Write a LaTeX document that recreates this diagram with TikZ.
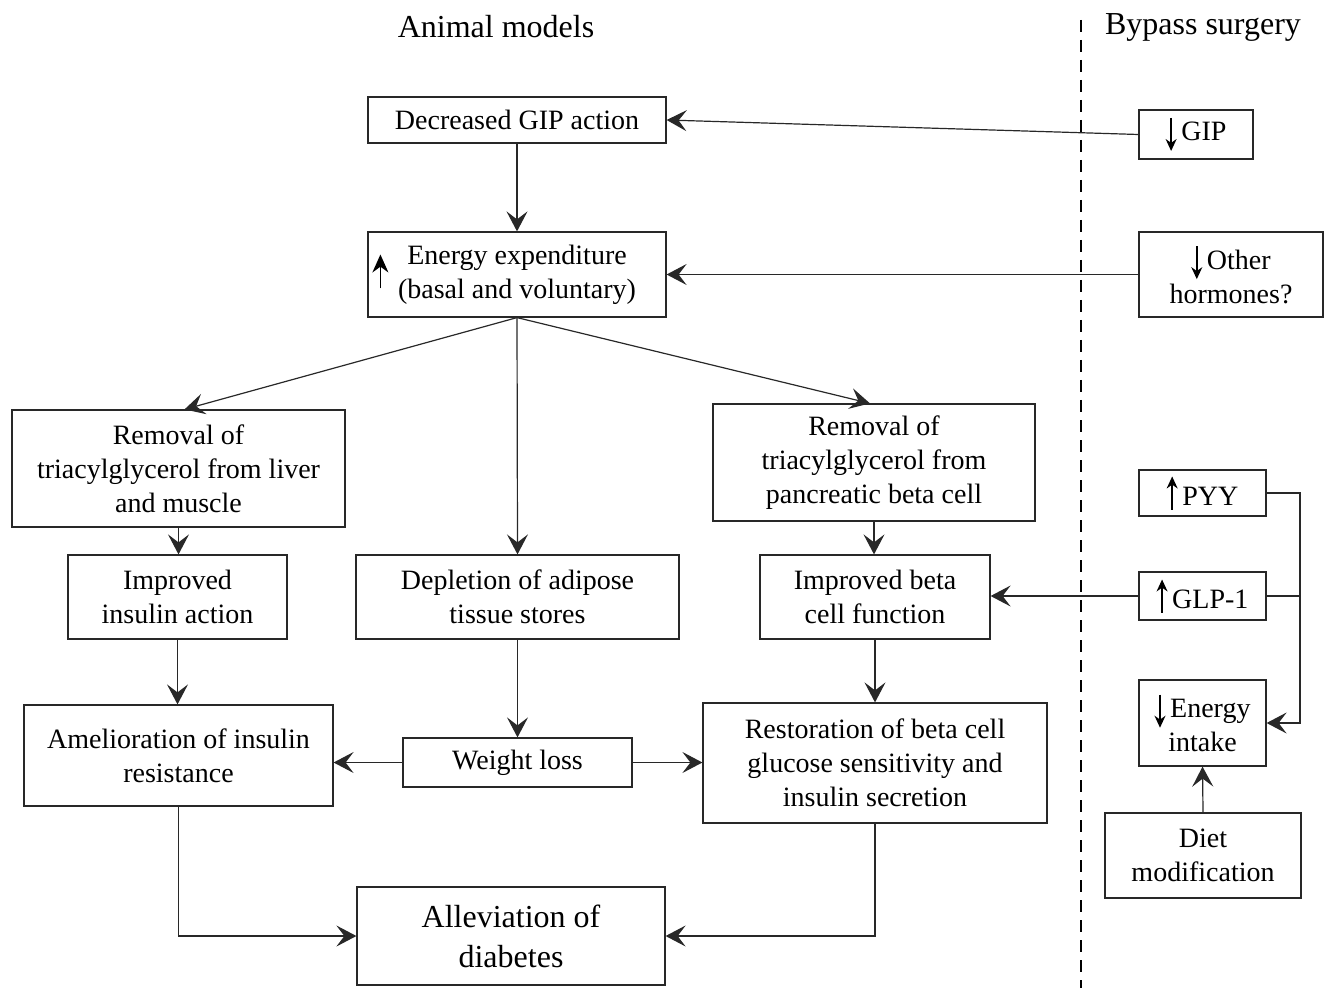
\documentclass[tikz,border=0pt]{standalone}
\usepackage{fontspec}
\setmainfont{Liberation Serif}
\usetikzlibrary{arrows.meta, positioning, calc}
\definecolor{line_gray}{RGB}{40,40,40}

% small arrows written inside the boxes
\newcommand{\arrup}{\tikz[baseline=0pt]\draw[line width=0.7pt, -{Stealth[length=6pt,width=5.5pt]}] (0pt,-2pt) -- (0pt,14.5pt);\,}
\newcommand{\arrdown}{\tikz[baseline=0pt]\draw[line width=0.7pt, -{Stealth[length=6pt,width=5.5pt]}] (0pt,11.5pt) -- (0pt,-5pt);\,}

\begin{document}
\begin{tikzpicture}[x=0.5pt, y=-0.5pt, >={Stealth[length=10pt, width=10.5pt, inset=4pt]},
    box/.style 2 args={draw=line_gray, line width=0.6pt, align=center, inner sep=2pt,
      minimum width=#1, minimum height=#2, font=\fontsize{14}{17}\selectfont},
    link/.style={->, line_gray, line width=0.6pt},
    title/.style={font=\fontsize{16}{19}\selectfont}]
  \useasboundingbox (0,0) rectangle (1325,988);

  % titles and divider
  \node[title] (tanimal) at (496,27) {Animal models};
  \node[title] (tbypass) at (1203,27) {Bypass surgery};
  \draw[line width=0.8pt, dash pattern=on 6pt off 4pt] (1081,20) -- (1081,988);

  % animal models column
  \node[box={149pt}{23pt}] (gipact) at (517,120) {Decreased GIP action};
  \node[box={149pt}{42.5pt}] (energy) at (517,274.5) {Energy expenditure\\(basal and voluntary)};
  \coordinate (eup) at ([xshift=6.5pt, yshift=-7pt]energy.west);
  \draw[line width=0.7pt, -{Stealth[length=9pt,width=8pt]}] (eup) -- ++(0pt,17pt);
  \node[box={166.5pt}{58.5pt}] (remliver) at (178.5,468.5) {Removal of\\triacylglycerol from liver\\and muscle};
  \node[box={161pt}{58.5pt}] (rempanc) at (874,462.5) {Removal of\\triacylglycerol from\\pancreatic beta cell};
  \node[box={109.5pt}{42pt}] (impins) at (177.5,597) {Improved\\insulin action};
  \node[box={161.5pt}{42pt}] (deplet) at (517.5,597) {Depletion of adipose\\tissue stores};
  \node[box={115pt}{42pt}] (impbeta) at (875,597) {Improved beta\\cell function};
  \node[box={154.5pt}{50.5pt}] (amel) at (178.5,755.5) {Amelioration of insulin\\resistance};
  \node[box={114.5pt}{24.5pt}] (wloss) at (517.5,762.5) {Weight loss};
  \node[box={172pt}{60pt}] (restor) at (875,763) {Restoration of beta cell\\glucose sensitivity and\\insulin secretion};
  \node[box={154pt}{49pt}, font=\fontsize{16}{20}\selectfont] (allev) at (511,936) {Alleviation of\\diabetes};

  % bypass surgery column
  \node[box={57pt}{24.5pt}] (gip) at (1196,134.5) {\arrdown GIP};
  \node[box={92pt}{42.5pt}] (other) at (1231,274.5) {\arrdown Other\\hormones?};
  \node[box={63.5pt}{23pt}] (pyy) at (1202.5,493) {\arrup PYY};
  \node[box={63.5pt}{24pt}] (glp) at (1202.5,596) {\arrup GLP-1};
  \node[box={63.5pt}{43pt}] (eintake) at (1202.5,723) {\arrdown Energy\\intake};
  \node[box={98pt}{42.5pt}] (diet) at (1203,855.5) {Diet\\modification};
  \coordinate (bus) at (1300,493);

  % connectors
  \draw[link] (gip.west) -- (gipact.east);
  \draw[link] (other.west) -- (energy.east);
  \draw[link] (gipact.south) -- (energy.north);
  \draw[link] (energy.south) -- ([xshift=3pt]remliver.north);
  \draw[link] (energy.south) -- (deplet.north);
  \draw[link] (energy.south) -- ([xshift=-2pt]rempanc.north);
  \draw[link] (remliver.south) -- (impins.north -| remliver.south);
  \draw[link] (rempanc.south) -- (impbeta.north -| rempanc.south);
  \draw[link] (impins.south) -- (amel.north -| impins.south);
  \draw[link] (deplet.south) -- (wloss.north);
  \draw[link] (impbeta.south) -- (restor.north);
  \draw[link] (wloss.west) -- (amel.east |- wloss.west);
  \draw[link] (wloss.east) -- (restor.west |- wloss.east);
  \draw[link] (amel.south) |- (allev.west);
  \draw[link] (restor.south) |- (allev.east);
  \draw[link] (glp.west) -- (impbeta.east |- glp.west);
  \draw[link] (pyy.east) -- (bus) |- (eintake.east);
  \draw[line_gray, line width=0.6pt] (glp.east) -- (glp.east -| bus);
  \draw[link] (diet.north) -- (eintake.south);
\end{tikzpicture}
\end{document}
